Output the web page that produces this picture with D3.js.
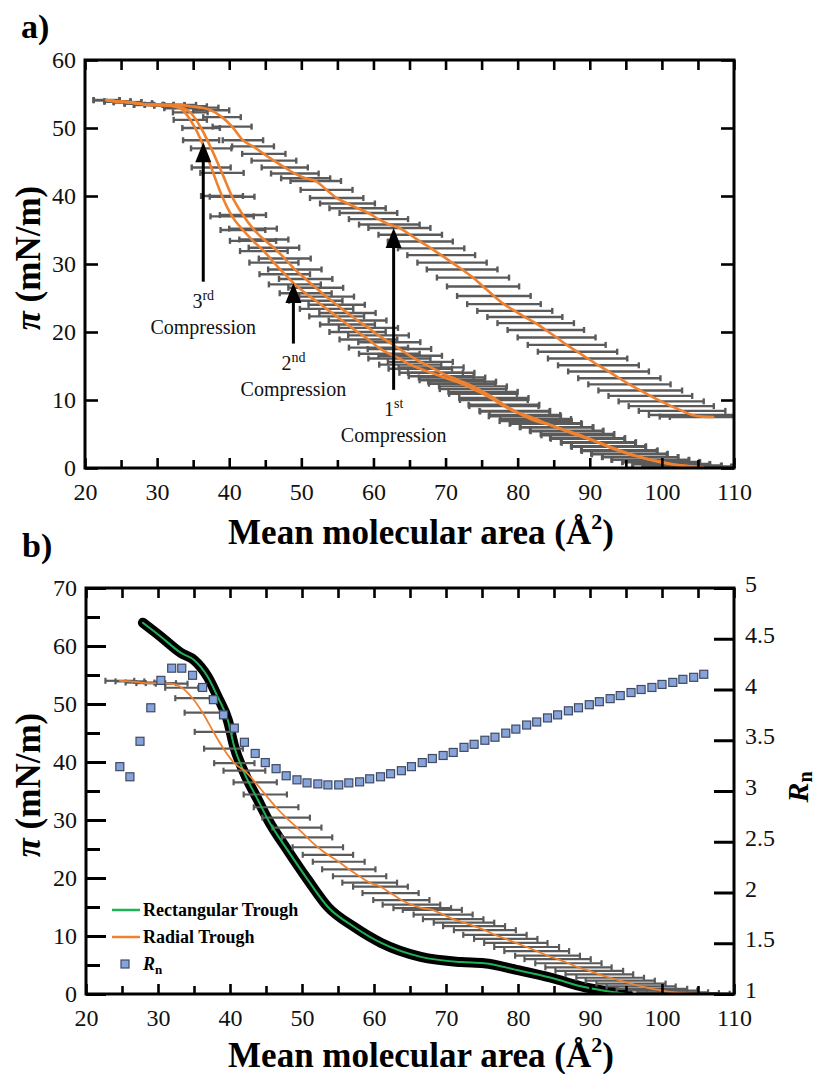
<!DOCTYPE html>
<html><head><meta charset="utf-8">
<script src="https://cdn.jsdelivr.net/npm/d3@7/dist/d3.min.js"></script>
<style>body{margin:0;background:#fff}</style>
</head><body><svg id="c" width="822" height="1074"></svg>
<script>
// ---------------- DATA ----------------
// Panel a: radial trough, three compressions (area grid in Å², π in mN/m, horizontal error half-width in Å²)
const areaA = [23.0,24.5,25.9,27.4,28.8,30.3,31.7,33.2,34.6,36.1,37.5,39.0,40.4,41.9,43.3,44.8,46.2,47.7,49.1,50.6,52.0,53.5,54.9,56.4,57.8,59.3,60.7,62.2,63.6,65.1,66.5,68.0,69.4,70.9,72.3,73.8,75.2,76.7,78.1,79.6,81.0,82.5,83.9,85.4,86.8,88.3,89.7,91.2,92.6,94.1,95.5,97.0,98.4,99.9,101.3,102.8,104.2,105.7,107.1];
const pi1st = [54.1,53.9,53.8,53.6,53.4,53.4,53.4,53.4,53.2,53.0,52.6,51.6,50.2,48.2,47.3,46.2,45.2,44.2,43.3,42.6,42.2,40.9,39.7,38.9,38.2,37.5,36.6,35.8,35.3,34.3,33.3,32.3,31.3,30.2,29.2,28.0,26.7,25.3,24.1,23.1,22.2,21.3,20.3,19.2,18.1,17.1,16.1,15.1,14.2,13.2,12.3,11.4,10.6,9.8,9.1,8.4,7.8,7.55,7.5];
const err1st = [1.8,1.8,1.9,1.9,2.0,2.0,2.1,2.2,2.3,2.4,2.5,2.6,2.7,2.8,2.9,3.0,3.1,3.2,3.3,3.4,3.5,3.6,3.7,3.8,3.9,4.0,4.1,4.2,4.3,4.4,4.5,4.6,4.7,4.8,4.9,5.0,5.0,5.1,5.1,5.2,5.2,5.3,5.3,5.4,5.4,5.5,5.5,5.6,5.6,5.7,5.7,5.8,5.8,5.9,5.9,6.0,6.0,6.0,6.0];
const pi2nd = [54.1,53.9,53.8,53.6,53.4,53.4,53.3,53.1,52.3,50.0,47.0,43.4,39.9,37.2,35.2,33.6,32.4,30.8,29.2,27.8,26.5,25.2,24.0,22.8,21.7,20.6,19.5,18.5,17.5,16.5,15.6,14.8,14.0,13.3,12.7,12.0,11.2,10.3,9.3,8.4,7.6,6.9,6.5,6.0,5.5,5.0,4.4,3.8,3.2,2.6,2.1,1.6,1.2,0.85,0.55,0.35,0.2,0.1,null];
const err2nd = [1.8,1.8,1.9,1.9,2.0,2.0,2.1,2.2,2.4,2.6,2.8,3.0,3.1,3.2,3.3,3.4,3.5,3.6,3.7,3.7,3.8,3.8,3.9,3.9,4.0,4.1,4.2,4.3,4.4,4.4,4.5,4.5,4.6,4.6,4.7,4.7,4.8,4.8,4.9,4.9,5.0,5.0,5.0,5.1,5.1,5.1,5.2,5.2,5.2,5.3,5.3,5.3,5.4,5.4,5.4,5.5,5.5,5.5,5.5];
const pi3rd = [54.1,53.9,53.8,53.6,53.4,53.4,53.3,52.9,51.2,48.2,44.2,40.0,37.0,35.0,33.4,31.9,30.2,28.5,27.0,25.7,24.6,23.4,22.3,21.1,20.0,18.9,17.7,16.8,16.1,15.2,14.6,14.0,13.5,12.9,12.4,11.6,10.9,10.0,9.1,8.3,7.8,7.2,6.6,6.0,5.4,4.8,4.3,3.7,3.1,2.5,2.0,1.6,1.2,0.9,0.6,0.35,0.2,0.08,null];
const err3rd = [1.8,1.8,1.9,1.9,2.0,2.0,2.1,2.2,2.3,2.5,2.7,2.9,3.0,3.1,3.2,3.3,3.4,3.5,3.6,3.6,3.7,3.7,3.8,3.8,3.9,4.0,4.1,4.2,4.3,4.3,4.4,4.4,4.5,4.5,4.6,4.6,4.7,4.7,4.8,4.8,4.9,4.9,4.9,5.0,5.0,5.0,5.1,5.1,5.1,5.2,5.2,5.2,5.3,5.3,5.3,5.4,5.4,5.4,5.4];

// Panel a annotations (arrows: area, π at base, π at tip)
const arrowArea = [36.4, 48.9, 62.8];
const arrowBase = [27.4, 18.3, 11.5];
const arrowTip  = [47.9, 27.2, 35.3];
const arrowNum  = ["3", "2", "1"];
const arrowSup  = ["rd", "nd", "st"];

// Panel b: radial trough with error bars and R_n, rectangular trough
const areaB = [24.7,26.1,27.5,29.0,30.4,31.9,33.3,34.8,36.2,37.7,39.1,40.6,42.0,43.5,44.9,46.4,47.8,49.3,50.7,52.2,53.6,55.1,56.5,58.0,59.4,60.9,62.3,63.8,65.2,66.7,68.1,69.6,71.0,72.5,73.9,75.4,76.8,78.3,79.7,81.2,82.6,84.1,85.5,87.0,88.4,89.9,91.3,92.8,94.2,95.7,97.1,98.6,100.0,101.5,102.9,104.4,105.8];
const piRadial = [54.0,53.9,53.7,53.6,53.6,53.5,52.8,51.0,48.5,45.2,42.3,39.8,38.5,36.5,34.4,32.2,30.4,28.7,27.0,25.3,24.0,22.8,21.5,20.3,19.2,18.5,17.4,16.2,15.4,14.8,14.5,13.7,12.9,12.3,11.7,11.0,10.2,9.5,8.8,8.1,7.4,6.6,6.0,5.3,4.6,4.0,3.4,2.8,2.3,1.8,1.3,0.9,0.6,0.3,0.15,0.05,0.0];
const errRadial = [2.0,2.0,2.0,2.0,2.1,2.2,2.3,2.4,2.5,2.6,2.7,2.8,2.9,3.0,3.0,3.1,3.3,3.4,3.5,3.5,3.5,3.6,3.7,3.7,3.8,3.8,3.9,3.9,4.0,4.0,4.1,4.1,4.2,4.2,4.3,4.3,4.4,4.4,4.4,4.5,4.5,4.5,4.6,4.6,4.6,4.7,4.7,4.7,4.8,4.8,4.8,4.9,4.9,4.9,5.0,5.0,5.0];
const rnValues = [3.24,3.14,3.49,3.82,4.09,4.21,4.21,4.14,4.02,3.90,3.75,3.62,3.48,3.37,3.28,3.22,3.15,3.11,3.08,3.07,3.06,3.06,3.08,3.09,3.12,3.14,3.17,3.20,3.24,3.28,3.32,3.35,3.38,3.43,3.46,3.50,3.53,3.57,3.61,3.65,3.68,3.72,3.75,3.79,3.82,3.85,3.88,3.91,3.94,3.97,4.00,4.02,4.05,4.07,4.10,4.12,4.15];
const rectArea = [27.9,30.4,33.2,35.0,36.9,38.3,39.7,40.6,42.0,43.9,45.3,48.0,50.8,53.6,57.2,61.0,66.5,72.1,75.3,80.0,84.6,89.2,93.4,95.3];
const rectPi   = [64.0,61.6,58.8,57.6,54.7,51.2,47.2,42.6,38.1,33.4,30.0,24.8,19.7,15.0,11.6,8.8,6.4,5.5,5.3,4.1,2.8,1.2,0.3,0.0];

// Ticks
const xTicks = [20,30,40,50,60,70,80,90,100,110];
const xMinorTicks = [25,35,45,55,65,75,85,95,105];
const yTicksA = [0,10,20,30,40,50,60];
const yTicksB = [0,10,20,30,40,50,60,70];
const yMinorB = [5,15,25,35,45,55,65];
const rnTicks = [1,1.5,2,2.5,3,3.5,4,4.5,5];
const legendLabels = ["Rectangular Trough", "Radial Trough"];

// ---------------- STYLE ----------------
const FONT = '"Liberation Serif","Times New Roman",serif';
const ORANGE = "#f0822f", GREEN = "#1fb156", GRAY = "#5a5a5a", SQFILL = "#86a3da", SQSTROKE = "#3f4a63";

const svg = d3.select("#c").style("font-family", FONT);

const xA = d3.scaleLinear().domain([20,110]).range([85,734]);
const yA = d3.scaleLinear().domain([0,60]).range([468,60]);
const xB = d3.scaleLinear().domain([20,110]).range([86,734]);
const yB = d3.scaleLinear().domain([0,70]).range([994,588]);
const rB = d3.scaleLinear().domain([1,5]).range([994,588]);

const defs = svg.append("defs");
defs.append("clipPath").attr("id","clipA").append("rect")
  .attr("x",xA(20)).attr("y",yA(60)).attr("width",xA(110)-xA(20)).attr("height",yA(0)-yA(60));
defs.append("clipPath").attr("id","clipB").append("rect")
  .attr("x",xB(20)).attr("y",yB(70)).attr("width",xB(110)-xB(20)).attr("height",yB(0)-yB(70));

function errorBars(g, x, y, xs, ys, es, sw) {
  const pts = xs.map((a,i)=>({a, p: ys[i], e: es[i]})).filter(d=>d.p!=null);
  const gg = g.append("g").attr("stroke", GRAY).attr("stroke-width", sw).attr("fill","none");
  gg.selectAll("line.h").data(pts).join("line").attr("class","h")
    .attr("x1", d=>x(d.a-d.e)).attr("x2", d=>x(d.a+d.e))
    .attr("y1", d=>y(d.p)).attr("y2", d=>y(d.p));
  gg.selectAll("line.l").data(pts).join("line").attr("class","l")
    .attr("x1", d=>x(d.a-d.e)).attr("x2", d=>x(d.a-d.e))
    .attr("y1", d=>y(d.p)-3).attr("y2", d=>y(d.p)+3);
  gg.selectAll("line.r").data(pts).join("line").attr("class","r")
    .attr("x1", d=>x(d.a+d.e)).attr("x2", d=>x(d.a+d.e))
    .attr("y1", d=>y(d.p)-3).attr("y2", d=>y(d.p)+3);
}
function curve(g, x, y, xs, ys, color, sw) {
  const line = d3.line().defined(d=>d[1]!=null).x(d=>x(d[0])).y(d=>y(d[1])).curve(d3.curveMonotoneX);
  g.append("path").datum(xs.map((a,i)=>[a, ys[i]])).attr("d", line)
    .attr("fill","none").attr("stroke", color).attr("stroke-width", sw)
    .attr("stroke-linejoin","round").attr("stroke-linecap","round");
}
function styleAxis(g, sw) {
  g.select(".domain").remove();
  g.selectAll(".tick line").attr("stroke","#000").attr("stroke-width", sw);
  g.selectAll(".tick text").attr("fill","#111").style("font-size","24px").style("font-family", FONT);
}

// ---------------- PANEL A ----------------
const gA = svg.append("g");
const dataA = gA.append("g").attr("clip-path","url(#clipA)");
errorBars(dataA, xA, yA, areaA, pi1st, err1st, 2.4);
errorBars(dataA, xA, yA, areaA, pi2nd, err2nd, 2.4);
errorBars(dataA, xA, yA, areaA, pi3rd, err3rd, 2.4);
curve(dataA, xA, yA, areaA, pi1st, ORANGE, 2.6);
curve(dataA, xA, yA, areaA, pi2nd, ORANGE, 2.6);
curve(dataA, xA, yA, areaA, pi3rd, ORANGE, 2.6);

// arrows + labels
arrowArea.forEach((a,i)=>{
  const xp = xA(a), yb = yA(arrowBase[i]), yt = yA(arrowTip[i]);
  gA.append("line").attr("x1",xp).attr("x2",xp).attr("y1",yb).attr("y2",yt+14)
    .attr("stroke","#000").attr("stroke-width",3);
  gA.append("path").attr("d",`M${xp},${yt} L${xp-8},${yt+20} L${xp+8},${yt+20} Z`).attr("fill","#000");
  const t1 = gA.append("text").attr("x",xp).attr("y",yb+26).attr("text-anchor","middle")
    .style("font-size","20px").attr("fill","#111");
  t1.append("tspan").text(arrowNum[i]);
  t1.append("tspan").attr("dy",-8).style("font-size","14px").text(arrowSup[i]);
  gA.append("text").attr("x",xp).attr("y",yb+52).attr("text-anchor","middle")
    .style("font-size","20px").attr("fill","#111").text("Compression");
});

// axes a
gA.append("g").attr("transform",`translate(${xA(20)},0)`)
  .call(d3.axisLeft(yA).tickValues(yTicksA).tickSize(-13).tickPadding(9).tickSizeOuter(0))
  .call(g=>styleAxis(g,2.6));
gA.append("g").attr("transform",`translate(${xA(110)},0)`)
  .call(d3.axisRight(yA).tickValues(yTicksA).tickSize(-13).tickFormat("").tickSizeOuter(0))
  .call(g=>styleAxis(g,2.6));
gA.append("g").attr("transform",`translate(0,${yA(0)})`)
  .call(d3.axisBottom(xA).tickValues(xTicks).tickSize(-10).tickPadding(15).tickSizeOuter(0))
  .call(g=>styleAxis(g,2.6));
gA.append("g").attr("transform",`translate(0,${yA(0)})`)
  .call(d3.axisBottom(xA).tickValues(xMinorTicks).tickSize(-8).tickFormat("").tickSizeOuter(0))
  .call(g=>styleAxis(g,2.6));
gA.append("g").attr("transform",`translate(0,${yA(60)})`)
  .call(d3.axisTop(xA).tickValues(xTicks.concat(xMinorTicks)).tickSize(-10).tickFormat("").tickSizeOuter(0))
  .call(g=>styleAxis(g,2.6));
gA.append("rect").attr("x",xA(20)).attr("y",yA(60)).attr("width",xA(110)-xA(20)).attr("height",yA(0)-yA(60))
  .attr("fill","none").attr("stroke","#000").attr("stroke-width",3);

// titles a
gA.append("text").attr("x",21).attr("y",38).style("font-size","34px").style("font-weight","bold").text("a)");
{
  const t = gA.append("text").attr("x",421).attr("y",544).attr("text-anchor","middle")
    .style("font-size","35px").style("font-weight","bold");
  t.append("tspan").text("Mean molecular area (Å");
  t.append("tspan").attr("dy",-15).style("font-size","22px").text("2");
  t.append("tspan").attr("dy",15).text(")");
  const yl = gA.append("text").attr("transform","translate(40,258) rotate(-90)").attr("text-anchor","middle")
    .style("font-size","35px").style("font-weight","bold");
  yl.append("tspan").style("font-style","italic").text("π");
  yl.append("tspan").text(" (mN/m)");
}

// ---------------- PANEL B ----------------
const gB = svg.append("g");
const dataB = gB.append("g").attr("clip-path","url(#clipB)");
curve(dataB, xB, yB, rectArea, rectPi, "#000", 10);
errorBars(dataB, xB, yB, areaB, piRadial, errRadial, 2.2);
curve(dataB, xB, yB, rectArea, rectPi, GREEN, 2);
curve(dataB, xB, yB, areaB, piRadial, ORANGE, 1.8);
gB.append("g").selectAll("rect").data(areaB.map((a,i)=>[a, rnValues[i]])).join("rect")
  .attr("x", d=>xB(d[0])-4).attr("y", d=>rB(d[1])-4).attr("width",8).attr("height",8)
  .attr("fill",SQFILL).attr("stroke",SQSTROKE).attr("stroke-width",1.2);

// axes b
gB.append("g").attr("transform",`translate(${xB(20)},0)`)
  .call(d3.axisLeft(yB).tickValues(yTicksB).tickSize(-20).tickPadding(9).tickSizeOuter(0))
  .call(g=>styleAxis(g,3));
gB.append("g").attr("transform",`translate(${xB(20)},0)`)
  .call(d3.axisLeft(yB).tickValues(yMinorB).tickSize(-14).tickFormat("").tickSizeOuter(0))
  .call(g=>styleAxis(g,3));
gB.append("g").attr("transform",`translate(${xB(110)},0)`)
  .call(d3.axisRight(rB).tickValues(rnTicks).tickSize(-20).tickPadding(11).tickSizeOuter(0).tickFormat(d=>String(d)))
  .call(g=>styleAxis(g,3))
  .call(g=>g.selectAll(".tick text").attr("dy","0.15em"));
gB.append("g").attr("transform",`translate(0,${yB(0)})`)
  .call(d3.axisBottom(xB).tickValues(xTicks).tickSize(-10).tickPadding(15).tickSizeOuter(0))
  .call(g=>styleAxis(g,2.6));
gB.append("g").attr("transform",`translate(0,${yB(0)})`)
  .call(d3.axisBottom(xB).tickValues(xMinorTicks).tickSize(-8).tickFormat("").tickSizeOuter(0))
  .call(g=>styleAxis(g,2.6));
gB.append("g").attr("transform",`translate(0,${yB(70)})`)
  .call(d3.axisTop(xB).tickValues(xTicks.concat(xMinorTicks)).tickSize(-10).tickFormat("").tickSizeOuter(0))
  .call(g=>styleAxis(g,2.6));
gB.append("rect").attr("x",xB(20)).attr("y",yB(70)).attr("width",xB(110)-xB(20)).attr("height",yB(0)-yB(70))
  .attr("fill","none").attr("stroke","#000").attr("stroke-width",3);

// legend b
const lg = gB.append("g");
[GREEN, ORANGE].forEach((c,i)=>{
  const yy = 910 + i*27;
  lg.append("line").attr("x1",112).attr("x2",140).attr("y1",yy).attr("y2",yy).attr("stroke",c).attr("stroke-width",2.5);
  lg.append("text").attr("x",143).attr("y",yy+6).style("font-size","18px").style("font-weight","bold").text(legendLabels[i]);
});
lg.append("rect").attr("x",121).attr("y",960).attr("width",8).attr("height",8)
  .attr("fill",SQFILL).attr("stroke",SQSTROKE).attr("stroke-width",1.2);
{
  const t = lg.append("text").attr("x",143).attr("y",970).style("font-size","18px").style("font-weight","bold");
  t.append("tspan").style("font-style","italic").text("R");
  t.append("tspan").attr("dy",4).style("font-size","13px").text("n");
}

// titles b
gB.append("text").attr("x",22).attr("y",557).style("font-size","34px").style("font-weight","bold").text("b)");
{
  const t = gB.append("text").attr("x",421).attr("y",1067).attr("text-anchor","middle")
    .style("font-size","35px").style("font-weight","bold");
  t.append("tspan").text("Mean molecular area (Å");
  t.append("tspan").attr("dy",-15).style("font-size","22px").text("2");
  t.append("tspan").attr("dy",15).text(")");
  const yl = gB.append("text").attr("transform","translate(40,785) rotate(-90)").attr("text-anchor","middle")
    .style("font-size","35px").style("font-weight","bold");
  yl.append("tspan").style("font-style","italic").text("π");
  yl.append("tspan").text(" (mN/m)");
  const rl = gB.append("text").attr("transform","translate(808,787) rotate(-90)").attr("text-anchor","middle")
    .style("font-size","30px").style("font-weight","bold");
  rl.append("tspan").style("font-style","italic").text("R");
  rl.append("tspan").attr("dy",4).style("font-size","20px").text("n");
}
</script>
</body></html>
